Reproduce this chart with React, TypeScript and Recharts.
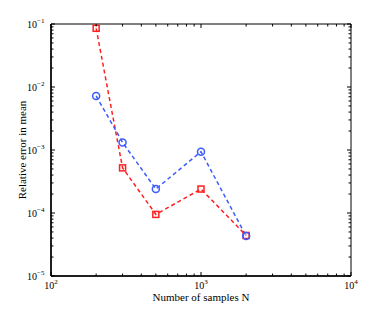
import { LineChart, Line, XAxis, YAxis, ReferenceArea } from 'recharts'

// sample counts and relative error of the mean for the two estimators
const sampleSizes = [200, 300, 500, 1000, 2000]
const redErrors = [0.0855, 5.2e-4, 9.5e-5, 2.4e-4, 4.4e-5]
const blueErrors = [7.2e-3, 1.32e-3, 2.4e-4, 9.4e-4, 4.3e-5]

const xTicks = [
  100, 200, 300, 400, 500, 600, 700, 800, 900,
  1000, 2000, 3000, 4000, 5000, 6000, 7000, 8000, 9000,
  10000,
]
const yTicks = [
  1e-5, 2e-5, 3e-5, 4e-5, 5e-5, 6e-5, 7e-5, 8e-5, 9e-5,
  1e-4, 2e-4, 3e-4, 4e-4, 5e-4, 6e-4, 7e-4, 8e-4, 9e-4,
  1e-3, 2e-3, 3e-3, 4e-3, 5e-3, 6e-3, 7e-3, 8e-3, 9e-3,
  1e-2, 2e-2, 3e-2, 4e-2, 5e-2, 6e-2, 7e-2, 8e-2, 9e-2,
  1e-1,
]

const data = sampleSizes.map((n, i) => ({ n, red: redErrors[i], blue: blueErrors[i] }))

const W = 388
const H = 311
const MARGIN = { top: 24, right: 37, left: 0, bottom: 0 }
const Y_AXIS_W = 51
const X_AXIS_H = 35
const PLOT_W = W - MARGIN.left - MARGIN.right - Y_AXIS_W
const PLOT_H = H - MARGIN.top - MARGIN.bottom - X_AXIS_H

const FONT = '"Liberation Serif", "DejaVu Serif", serif'
const RED = '#ff1f1f'
const BLUE = '#3b5bff'

const isMajor = (v: number) => Math.abs(Math.log10(v) - Math.round(Math.log10(v))) < 1e-9

function XTick(props: any) {
  const { x, y, payload } = props
  const major = isMajor(payload.value)
  const len = major ? 4 : 2.5
  const exp = Math.round(Math.log10(payload.value))
  return (
    <g>
      <line x1={x} y1={y} x2={x} y2={y - len} stroke="#000" strokeWidth={1} />
      <line x1={x} y1={y - PLOT_H} x2={x} y2={y - PLOT_H + len} stroke="#000" strokeWidth={1} />
      {major && (
        <text x={x} y={y + 13} textAnchor="middle" fontFamily={FONT} fontSize={10} fill="#000">
          10<tspan dy={-5} fontSize={7}>{exp}</tspan>
        </text>
      )}
    </g>
  )
}

function YTick(props: any) {
  const { x, y, payload } = props
  const major = isMajor(payload.value)
  const len = major ? 4 : 2.5
  const exp = Math.round(Math.log10(payload.value))
  return (
    <g>
      <line x1={x} y1={y} x2={x + len} y2={y} stroke="#000" strokeWidth={1} />
      <line x1={x + PLOT_W} y1={y} x2={x + PLOT_W - len} y2={y} stroke="#000" strokeWidth={1} />
      {major && (
        <text x={x - 14} y={y + 3.5} textAnchor="end" fontFamily={FONT} fontSize={10} fill="#000">
          10
        </text>
      )}
      {major && (
        <text x={x - 14} y={y - 1.5} textAnchor="start" fontFamily={FONT} fontSize={7} fill="#000">
          {`\u2212${Math.abs(exp)}`}
        </text>
      )}
    </g>
  )
}

function SquareDot(props: any) {
  const { cx, cy } = props
  if (cx == null || cy == null) return null
  return <rect x={cx - 3} y={cy - 3} width={6} height={6} fill="none" stroke={RED} strokeWidth={1.5} />
}

function CircleDot(props: any) {
  const { cx, cy } = props
  if (cx == null || cy == null) return null
  return <circle cx={cx} cy={cy} r={3.5} fill="none" stroke={BLUE} strokeWidth={1.5} />
}

export default function App() {
  return (
    <div style={{ position: 'absolute', left: 0, top: 0, background: '#fff' }}>
      <LineChart width={W} height={H} data={data} margin={MARGIN}>
        <XAxis
          dataKey="n"
          type="number"
          scale="log"
          domain={[100, 10000]}
          ticks={xTicks}
          interval={0}
          height={X_AXIS_H}
          tickSize={0}
          tickMargin={0}
          tickLine={false}
          axisLine={{ stroke: '#000', strokeWidth: 1.5 }}
          tick={<XTick />}
          allowDataOverflow
          label={({ viewBox }: any) => (
            <text
              x={viewBox.x + viewBox.width / 2}
              y={viewBox.y + 24.5}
              textAnchor="middle"
              fontFamily={FONT}
              fontSize={11}
              fill="#000"
            >
              Number of samples N
            </text>
          )}
        />
        <YAxis
          type="number"
          scale="log"
          domain={[1e-5, 1e-1]}
          ticks={yTicks}
          interval={0}
          width={Y_AXIS_W}
          tickSize={0}
          tickMargin={0}
          tickLine={false}
          axisLine={{ stroke: '#000', strokeWidth: 1.5 }}
          tick={<YTick />}
          allowDataOverflow
          label={({ viewBox }: any) => {
            const cx = viewBox.x + 22
            const cy = viewBox.y + viewBox.height / 2
            return (
              <text
                x={cx}
                y={cy}
                transform={`rotate(-90, ${cx}, ${cy})`}
                textAnchor="middle"
                dominantBaseline="central"
                fontFamily={FONT}
                fontSize={11}
                fill="#000"
              >
                Relative error in mean
              </text>
            )
          }}
        />
        <ReferenceArea x1={100} x2={10000} y1={1e-5} y2={1e-1} fill="none" stroke="#000" strokeWidth={1} />
        <Line
          dataKey="red"
          stroke={RED}
          strokeWidth={1.5}
          strokeDasharray="4 3"
          dot={<SquareDot />}
          isAnimationActive={false}
        />
        <Line
          dataKey="blue"
          stroke={BLUE}
          strokeWidth={1.5}
          strokeDasharray="4 3"
          dot={<CircleDot />}
          isAnimationActive={false}
        />
      </LineChart>
    </div>
  )
}
